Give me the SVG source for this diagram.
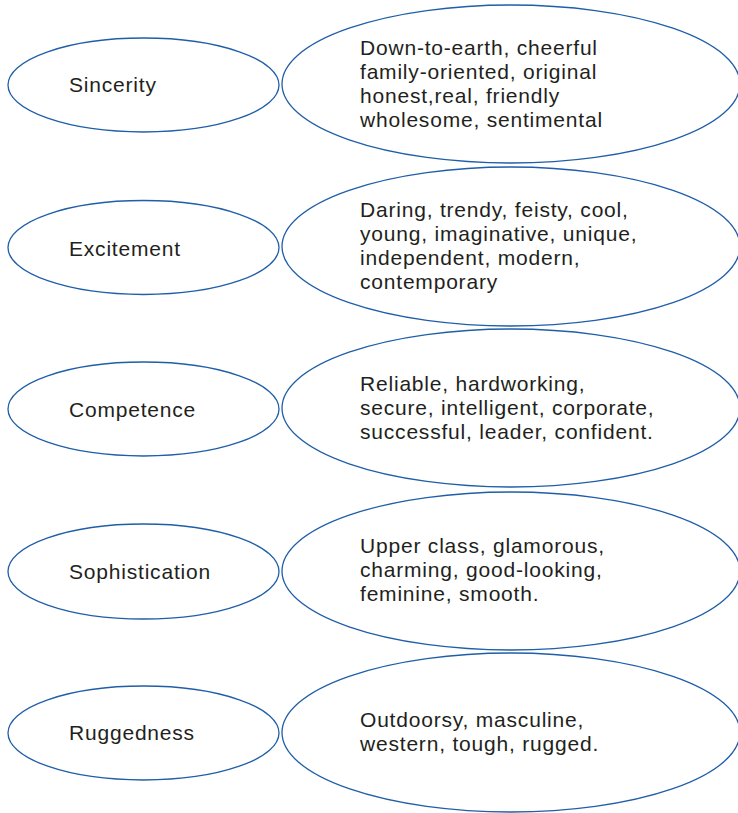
<svg xmlns="http://www.w3.org/2000/svg" width="738" height="813" viewBox="0 0 738 813">
<style>
.e{fill:#fff;stroke:#1f5ea8;stroke-width:1.3}
.t{font-family:"Liberation Sans",Arial,sans-serif;font-size:21px;letter-spacing:0.8px;fill:#231f20}
</style>
<rect width="738" height="813" fill="#fff"/>
<g id="connectors"></g>
<g id="sincerity"><ellipse class="e" cx="143.5" cy="85" rx="135.5" ry="47"/><text class="t" x="69" y="92">Sincerity</text></g>
<g id="sincerity-traits"><ellipse class="e" cx="511" cy="84" rx="229" ry="79"/><text class="t" x="360" y="55">Down-to-earth, cheerful<tspan x="360" dy="24">family-oriented, original</tspan><tspan x="360" dy="24">honest,real, friendly</tspan><tspan x="360" dy="24">wholesome, sentimental</tspan></text></g>
<g id="excitement"><ellipse class="e" cx="143.5" cy="247.5" rx="135.5" ry="47"/><text class="t" x="69" y="256">Excitement</text></g>
<g id="excitement-traits"><ellipse class="e" cx="511" cy="246.5" rx="229" ry="79.5"/><text class="t" x="360" y="217">Daring, trendy, feisty, cool,<tspan x="360" dy="24">young, imaginative, unique,</tspan><tspan x="360" dy="24">independent, modern,</tspan><tspan x="360" dy="23.5">contemporary</tspan></text></g>
<g id="competence"><ellipse class="e" cx="143.5" cy="409" rx="135.5" ry="47"/><text class="t" x="69" y="417">Competence</text></g>
<g id="competence-traits"><ellipse class="e" cx="511" cy="408" rx="229" ry="79"/><text class="t" x="360" y="391">Reliable, hardworking,<tspan x="360" dy="24">secure, intelligent, corporate,</tspan><tspan x="360" dy="23.5">successful, leader, confident.</tspan></text></g>
<g id="sophistication"><ellipse class="e" cx="143.5" cy="571.5" rx="135.5" ry="47.5"/><text class="t" x="69" y="579">Sophistication</text></g>
<g id="sophistication-traits"><ellipse class="e" cx="511" cy="571" rx="229" ry="79"/><text class="t" x="360" y="553">Upper class, glamorous,<tspan x="360" dy="24">charming, good-looking,</tspan><tspan x="360" dy="24">feminine, smooth.</tspan></text></g>
<g id="ruggedness"><ellipse class="e" cx="143.5" cy="733" rx="135.5" ry="47"/><text class="t" x="69" y="740">Ruggedness</text></g>
<g id="ruggedness-traits"><ellipse class="e" cx="511" cy="732.5" rx="229" ry="79.5"/><text class="t" x="360" y="727">Outdoorsy, masculine,<tspan x="360" dy="24">western, tough, rugged.</tspan></text></g>
</svg>
